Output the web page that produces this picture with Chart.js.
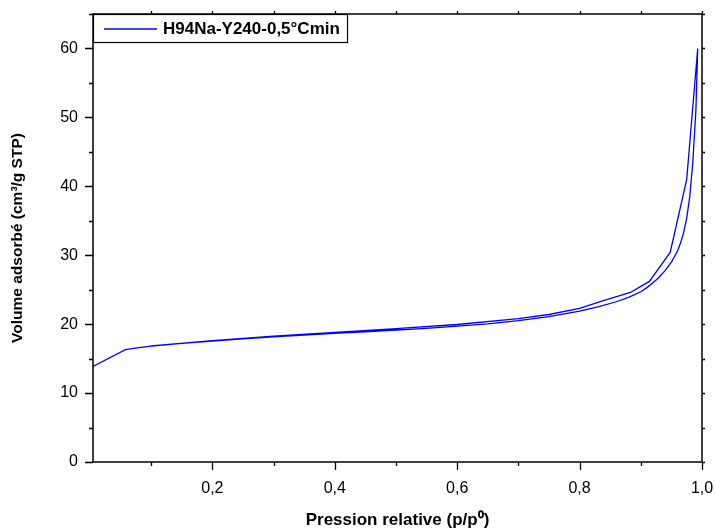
<!DOCTYPE html>
<html>
<head>
<meta charset="utf-8">
<script src="https://cdn.jsdelivr.net/npm/chart.js@4/dist/chart.umd.min.js"></script>
<style>
  body { margin: 0; background: #fff; }
</style>
</head>
<body>
<canvas id="graph" width="715" height="530"></canvas>
<script>
// branche adsorption (montante)
const adsX = [0.005, 0.058, 0.08, 0.1, 0.15, 0.2, 0.25, 0.3, 0.35, 0.4, 0.45, 0.5, 0.55, 0.6, 0.65, 0.7, 0.75, 0.8, 0.83, 0.86, 0.88, 0.9, 0.91, 0.92, 0.93, 0.94, 0.95, 0.96, 0.965, 0.97, 0.975, 0.98, 0.985, 0.99, 0.993];
const adsY = [13.85, 16.3, 16.6, 16.8, 17.2, 17.55, 17.85, 18.15, 18.4, 18.65, 18.9, 19.15, 19.4, 19.7, 20.05, 20.5, 21.1, 21.9, 22.5, 23.25, 23.9, 24.7, 25.3, 26.0, 26.8, 27.8, 29.0, 30.6, 31.8, 33.3, 35.4, 38.5, 43.5, 51, 60];
// branche desorption (descendante)
const desX = [0.993, 0.975, 0.948, 0.914, 0.883, 0.835, 0.8, 0.75, 0.7, 0.6, 0.5, 0.4, 0.3, 0.2, 0.1];
const desY = [60, 41.0, 30.4, 26.2, 24.6, 23.3, 22.3, 21.4, 20.8, 19.95, 19.35, 18.8, 18.25, 17.6, 16.85];

const xTicks = [0.1, 0.2, 0.3, 0.4, 0.5, 0.6, 0.7, 0.8, 0.9, 1.0];
const yTicks = [0, 5, 10, 15, 20, 25, 30, 35, 40, 45, 50, 55, 60, 65];
const serieLabel = "H94Na-Y240-0,5°Cmin";

const pontos = adsX.map((v, i) => ({ x: v, y: adsY[i] }))
  .concat(desX.map((v, i) => ({ x: v, y: desY[i] })));

const fonte = "'Liberation Sans', Arial, sans-serif";

function xMajor(v) { return Math.round(v * 10) % 2 === 0; }
function yMajor(v) { return Math.round(v) % 10 === 0; }

// cadre + graduations facon Origin
const cadre = {
  id: "cadre",
  afterDraw(chart) {
    const { ctx, chartArea: a, scales: { x, y } } = chart;
    ctx.save();
    ctx.strokeStyle = "#000";
    ctx.lineWidth = 1.5;
    ctx.strokeRect(a.left, a.top, a.right - a.left, a.bottom - a.top);
    ctx.lineWidth = 1.3;
    ctx.beginPath();
    x.ticks.forEach((t) => {
      const px = Math.round(x.getPixelForValue(t.value)) + 0.5;
      const len = xMajor(t.value) ? 8 : 4;
      ctx.moveTo(px, a.bottom); ctx.lineTo(px, a.bottom + len);
      ctx.moveTo(px, a.top); ctx.lineTo(px, a.top - 3);
    });
    y.ticks.forEach((t) => {
      const py = Math.round(y.getPixelForValue(t.value)) + 0.5;
      const len = yMajor(t.value) ? 8 : 4;
      ctx.moveTo(a.left, py); ctx.lineTo(a.left - len, py);
      ctx.moveTo(a.right, py); ctx.lineTo(a.right + 3, py);
    });
    ctx.stroke();

    // legende
    const lx = a.left, ly = a.top, lw = 254, lh = 28;
    ctx.fillStyle = "#fff";
    ctx.fillRect(lx, ly, lw, lh);
    ctx.lineWidth = 1.2;
    ctx.strokeRect(lx + 0.5, ly + 0.5, lw, lh);
    ctx.strokeStyle = "#0000ff";
    ctx.lineWidth = 1.3;
    ctx.beginPath();
    ctx.moveTo(lx + 11, ly + 15); ctx.lineTo(lx + 64, ly + 15);
    ctx.stroke();
    ctx.fillStyle = "#000";
    ctx.font = "bold 17px " + fonte;
    ctx.textBaseline = "middle";
    ctx.fillText(chart.data.datasets[0].label, lx + 70, ly + 15);
    ctx.restore();
  },
};

var myChart = new Chart(document.getElementById("graph").getContext("2d"), {
  type: "scatter",
  data: {
    datasets: [
      {
        label: serieLabel,
        data: pontos,
        showLine: true,
        pointRadius: 0,
        borderColor: "#0000ff",
        borderWidth: 1.3,
        tension: 0,
      },
    ],
  },
  options: {
    responsive: false,
    animation: false,
    devicePixelRatio: 1,
    layout: { padding: { top: 14, right: 13, left: 0, bottom: 0 } },
    plugins: { legend: { display: false }, tooltip: { enabled: false } },
    scales: {
      x: {
        type: "linear",
        min: 0.005,
        max: 1.0,
        grid: { display: false, drawTicks: false },
        border: { display: false },
        afterBuildTicks: (s) => { s.ticks = xTicks.map((v) => ({ value: v })); },
        afterFit: (s) => { s.height = 68; s.paddingLeft = 0; s.paddingRight = 0; },
        ticks: {
          autoSkip: false,
          maxRotation: 0,
          padding: 17,
          color: "#000",
          font: { family: fonte, size: 16 },
          callback: (v) => (xMajor(v) ? v.toFixed(1).replace(".", ",") : ""),
        },
        title: {
          display: true,
          text: "Pression relative (p/p⁰)",
          color: "#000",
          padding: { top: 0, bottom: 0 },
          font: { family: fonte, size: 17, weight: "bold", lineHeight: 1.1 },
        },
      },
      y: {
        type: "linear",
        min: 0,
        max: 65,
        grid: { display: false, drawTicks: false },
        border: { display: false },
        afterBuildTicks: (s) => { s.ticks = yTicks.map((v) => ({ value: v })); },
        afterFit: (s) => { s.width = 93; s.paddingTop = 0; s.paddingBottom = 0; },
        ticks: {
          autoSkip: false,
          padding: 15,
          color: "#000",
          font: { family: fonte, size: 16 },
          callback: (v) => (yMajor(v) && v <= 60 ? String(v) : ""),
        },
        title: {
          display: true,
          text: "Volume adsorbé (cm³/g STP)",
          color: "#000",
          padding: { top: 8, bottom: 0 },
          font: { family: fonte, size: 15.5, weight: "bold", lineHeight: 1.2 },
        },
      },
    },
  },
  plugins: [cadre],
});
</script>
</body>
</html>
